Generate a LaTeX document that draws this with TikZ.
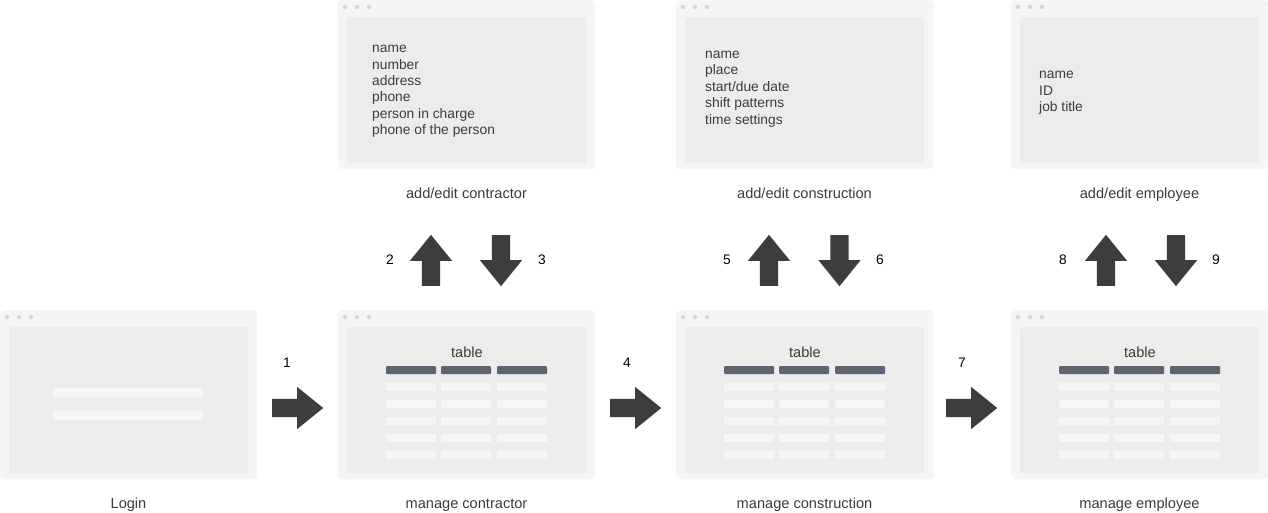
\documentclass[tikz,border=0pt]{standalone}
\usepackage{fontspec}
\setmainfont{Liberation Sans}
\usetikzlibrary{shapes.arrows}
\definecolor{winout}{HTML}{F5F5F5}
\definecolor{winin}{HTML}{ECECEC}
\definecolor{rowc}{HTML}{F6F6F6}
\definecolor{headc}{HTML}{5F6474}
\definecolor{arrc}{HTML}{3D3D3D}
\definecolor{dotc}{HTML}{D6D6D6}
\definecolor{txt}{HTML}{3C3C3C}
\tikzset{
  outerwin/.style={fill=winout, draw=none, rounded corners=4pt, minimum width=257pt, minimum height=169pt, inner sep=0pt, anchor=north west},
  innerwin/.style={fill=winin, draw=none, rounded corners=2pt, minimum width=239pt, minimum height=146pt, inner sep=0pt, anchor=north west},
  listtext/.style={text=txt, font=\fontsize{13.8pt}{16.4pt}\selectfont, align=left, anchor=west, inner sep=0pt},
  caption/.style={text=txt, font=\fontsize{14.6pt}{17pt}\selectfont, inner sep=0pt, anchor=base},
  tabletitle/.style={text=txt, font=\fontsize{14.6pt}{17pt}\selectfont, inner sep=0pt},
  numlabel/.style={text=black, font=\fontsize{13.8pt}{16pt}\selectfont, inner sep=0pt},
  blockarrow/.style={shape=single arrow, fill=arrc, draw=none, inner sep=9pt, minimum height=51pt, single arrow head extend=12pt, single arrow tip angle=78, single arrow head indent=0pt, anchor=tail},
}
\newcommand\browserwin[3]{%
  \node[outerwin] (#1) at (#2,#3) {};
  \node[innerwin] (#1-in) at ({#2+9},{#3+17}) {};
  \fill[dotc] ({#2+7},{#3+7}) circle (2.2pt);
  \fill[dotc] ({#2+19},{#3+7}) circle (2.2pt);
  \fill[dotc] ({#2+31},{#3+7}) circle (2.2pt);
}
\newcommand\tablegrid[3]{%
  \node[tabletitle] (#1-t) at ({#2+129},{#3+42}) {table};
  \foreach \cx/\cw in {48/50,103/50,159/50}{
    \fill[headc, rounded corners=1pt] ({#2+\cx},{#3+56}) rectangle ++(\cw,8);
    \foreach \ry in {73,90,107,124,141}{
      \fill[rowc] ({#2+\cx},{#3+\ry}) rectangle ++(\cw,8);
    }
  }
}
\begin{document}
\begin{tikzpicture}[x=1pt,y=-1pt]
\useasboundingbox (0,0) rectangle (1268,512);
\fill[white] (0,0) rectangle (1268,512);
% bottom row
\browserwin{login}{0}{310}
\fill[rowc] (53,388) rectangle (203,397);
\fill[rowc] (53,411) rectangle (203,420);
\node[caption] (login-c) at (128.5,508.5) {Login};

\browserwin{mcon}{338}{310}
\tablegrid{mcon}{338}{310}
\node[caption] (mcon-c) at (466.5,508.5) {manage contractor};

\browserwin{mcst}{676}{310}
\tablegrid{mcst}{676}{310}
\node[caption] (mcst-c) at (804.5,508.5) {manage construction};

\browserwin{memp}{1011}{310}
\tablegrid{memp}{1011}{310}
\node[caption] (memp-c) at (1139.5,508.5) {manage employee};

% top row
\browserwin{econ}{338}{0}
\node[listtext] (econ-l) at (372,91.5) {name\\number\\address\\phone\\person in charge\\phone of the person};
\node[caption] (econ-c) at (466.5,198.5) {add/edit contractor};

\browserwin{ecst}{676}{0}
\node[listtext] (ecst-l) at (705,89) {name\\place\\start/due date\\shift patterns\\time settings};
\node[caption] (ecst-c) at (804.5,198.5) {add/edit construction};

\browserwin{eemp}{1011}{0}
\node[listtext] (eemp-l) at (1039,93) {name\\ID\\job title};
\node[caption] (eemp-c) at (1139.5,198.5) {add/edit employee};

% horizontal arrows
\node[blockarrow] (a1) at (272,408) {};
\node[blockarrow] (a4) at (610,408) {};
\node[blockarrow] (a7) at (946,408) {};
\node[numlabel] (n1) at (287,363) {1};
\node[numlabel] (n4) at (627,363) {4};
\node[numlabel] (n7) at (962,363) {7};

% vertical arrows
\node[blockarrow, shape border rotate=90] (a2) at (431,286) {};
\node[blockarrow, shape border rotate=270] (a3) at (501,235) {};
\node[blockarrow, shape border rotate=90] (a5) at (769,286) {};
\node[blockarrow, shape border rotate=270] (a6) at (839.5,235) {};
\node[blockarrow, shape border rotate=90] (a8) at (1106,286) {};
\node[blockarrow, shape border rotate=270] (a9) at (1176,235) {};
\node[numlabel] (n2) at (390,260) {2};
\node[numlabel] (n3) at (542,260) {3};
\node[numlabel] (n5) at (727,260) {5};
\node[numlabel] (n6) at (880,260) {6};
\node[numlabel] (n8) at (1063,260) {8};
\node[numlabel] (n9) at (1216,260) {9};
\end{tikzpicture}
\end{document}
